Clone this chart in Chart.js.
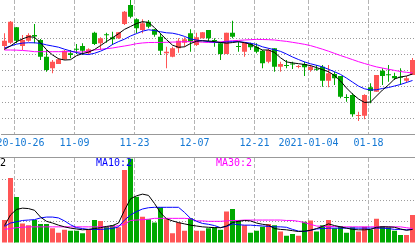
<!DOCTYPE html>
<html>
<head>
<meta charset="utf-8">
<script src="https://cdn.jsdelivr.net/npm/chart.js@4.4.1/dist/chart.umd.min.js"></script>
<style>
  html, body { margin: 0; padding: 0; background: #fff; overflow: hidden; }
  #wrap { position: relative; width: 415px; height: 243px; overflow: hidden; }
  #price { position: absolute; left: 0; top: 0; }
  #sep { position: absolute; left: 0; top: 157px; width: 415px; height: 1px; background: #999; }
  #vol { position: absolute; left: 0; top: 158px; }
</style>
</head>
<body>
<div id="wrap">
  <canvas id="price" width="416" height="157"></canvas>
  <div id="sep"></div>
  <canvas id="vol" width="416" height="85"></canvas>
</div>
<script>
// daily k-line, 2020-10-22 .. 2021-01-27

const days = [
  '2020-10-22','2020-10-23','2020-10-26','2020-10-27','2020-10-28','2020-10-29','2020-10-30',
  '2020-11-02','2020-11-03','2020-11-04','2020-11-05','2020-11-06','2020-11-09','2020-11-10',
  '2020-11-11','2020-11-12','2020-11-13','2020-11-16','2020-11-17','2020-11-18','2020-11-19',
  '2020-11-20','2020-11-23','2020-11-24','2020-11-25','2020-11-26','2020-11-27','2020-11-30',
  '2020-12-01','2020-12-02','2020-12-03','2020-12-04','2020-12-07','2020-12-08','2020-12-09',
  '2020-12-10','2020-12-11','2020-12-14','2020-12-15','2020-12-16','2020-12-17','2020-12-18',
  '2020-12-21','2020-12-22','2020-12-23','2020-12-24','2020-12-25','2020-12-28','2020-12-29',
  '2020-12-30','2020-12-31','2021-01-04','2021-01-05','2021-01-06','2021-01-07','2021-01-08',
  '2021-01-11','2021-01-12','2021-01-13','2021-01-14','2021-01-15','2021-01-18','2021-01-19',
  '2021-01-20','2021-01-21','2021-01-22','2021-01-25','2021-01-26','2021-01-27'
];

const tickDays = ['2020-10-26','2020-11-09','2020-11-23','2020-12-07','2020-12-21','2021-01-04','2021-01-18'];
const tickText = ['2020-10-26','11-09','11-23','12-07','12-21','2021-01-04','01-18'];

const open = [31.00,31.41,33.34,31.00,31.66,32.38,31.75,29.66,28.21,28.75,29.34,30.09,30.63,31.00,30.09,32.66,31.34,32.46,32.09,31.96,
  33.75,36.13,34.34,33.00,34.04,33.09,32.16,30.09,29.66,30.71,31.41,32.59,31.13,31.96,33.00,31.71,31.34,30.00,32.66,31.00,
  30.29,31.25,30.91,30.41,29.04,30.71,28.41,28.59,28.79,28.38,28.75,28.00,28.13,28.41,26.66,27.50,27.25,24.59,24.88,22.25,
  22.29,25.84,25.29,27.91,27.41,27.25,27.13,26.66,27.38];
const high = [32.59,34.13,33.38,32.38,32.59,33.75,31.88,30.50,29.25,29.50,30.50,30.50,31.25,31.34,30.71,32.79,32.09,32.66,32.79,32.75,
  35.38,36.75,34.46,34.34,34.25,33.13,32.59,30.91,30.91,31.96,32.09,33.09,32.66,32.75,33.00,31.96,31.54,32.66,34.16,31.54,
  31.41,31.41,31.34,30.50,30.71,30.71,29.04,29.25,29.04,28.63,29.04,28.63,28.63,28.63,28.63,27.79,27.25,24.96,25.09,22.79,
  24.96,26.34,27.38,28.21,28.63,27.66,28.21,27.25,29.50];
const low = [30.50,31.25,31.34,30.50,31.54,31.34,29.25,27.79,27.59,28.75,29.25,29.46,30.00,29.88,29.88,31.13,30.50,31.41,31.13,31.88,
  33.63,34.46,32.59,32.59,33.21,32.16,29.88,28.21,29.59,30.16,30.91,30.29,31.00,31.96,31.54,30.91,29.25,30.00,31.96,30.29,
  29.66,30.50,30.09,28.21,28.84,27.79,27.79,28.21,28.13,28.21,27.25,27.79,27.91,25.91,25.84,26.13,24.46,24.04,22.16,21.63,
  21.84,23.84,25.29,26.13,26.54,26.75,26.13,26.41,27.38];
const close = [31.66,34.04,31.66,31.75,32.38,32.19,29.66,28.00,29.04,29.34,30.41,29.88,30.54,30.41,30.59,31.25,31.96,32.34,31.84,32.71,
  35.29,34.66,33.21,33.84,33.41,32.41,30.41,30.29,30.71,31.66,31.84,31.54,32.09,32.71,31.96,31.63,30.00,32.66,32.16,30.88,
  31.41,30.84,30.29,28.84,30.50,28.41,28.75,28.50,28.69,28.46,28.34,28.41,28.04,26.66,27.59,26.96,24.66,24.50,22.46,22.34,
  24.88,25.38,27.38,27.25,27.34,26.96,27.04,26.96,29.25];

const ma5 = [30.59,31.00,31.53,31.89,32.16,32.09,31.39,30.54,29.88,29.41,29.25,29.29,29.79,30.05,30.24,30.56,31.05,31.56,32.03,32.53,
  33.08,33.44,33.81,34.04,33.94,33.30,32.54,31.80,31.10,30.84,30.90,31.31,31.59,31.66,31.63,31.55,31.44,31.35,31.43,31.54,
  31.41,31.23,30.84,30.50,30.50,30.19,29.53,29.01,28.89,28.79,28.69,28.55,28.30,28.04,27.79,27.31,26.63,25.75,25.00,24.38,
  23.94,24.00,24.75,25.50,26.13,26.88,27.13,27.25,27.50];
const ma10 = [30.75,31.00,31.23,31.36,31.41,31.40,31.33,31.14,31.00,30.85,30.60,30.38,30.18,30.00,29.93,30.09,30.35,30.69,31.19,31.55,
  31.85,32.25,32.55,32.85,33.03,32.93,32.78,32.65,32.60,32.44,32.20,31.89,31.74,31.65,31.55,31.48,31.43,31.50,31.54,31.54,
  31.46,31.35,31.18,30.90,30.71,30.53,30.33,30.00,29.63,29.31,29.01,28.78,28.59,28.39,28.09,27.78,27.45,26.99,26.49,25.99,
  25.65,25.50,25.53,25.69,25.81,26.00,26.19,26.44,26.69];
const ma30 = [30.50,30.50,30.48,30.44,30.38,30.29,30.29,30.29,30.29,30.29,30.29,30.29,30.25,30.25,30.38,30.50,30.59,30.66,30.75,30.88,
  31.00,31.13,31.29,31.38,31.43,31.44,31.45,31.46,31.49,31.51,31.54,31.54,31.53,31.48,31.44,31.44,31.51,31.60,31.66,31.70,
  31.75,31.79,31.83,31.81,31.79,31.75,31.66,31.58,31.46,31.34,31.21,31.05,30.83,30.60,30.35,30.08,29.81,29.56,29.30,29.04,
  28.81,28.59,28.39,28.24,28.09,27.95,27.81,27.71,27.63];

const volume = [54,153,108,46,42,54,45,45,35,24,31,29,29,23,31,54,52,38,42,37,
  172,198,109,62,56,48,84,56,23,48,29,58,29,29,35,37,31,74,80,54,
  42,24,29,38,45,42,27,17,21,17,50,53,27,42,54,35,40,24,37,27,
  38,32,57,40,37,29,19,19,66];
const volMa5 = [41,66,79,82,81,77,61,51,47,42,38,35,33,31,32,34,36,39,41,47,
  77,104,111,115,112,93,71,57,52,48,45,42,40,38,37,36,36,40,48,51,
  53,52,47,44,42,34,32,31,29,27,28,30,34,39,45,41,38,35,32,31,
  31,32,37,38,38,37,33,30,32];
const volMa10 = [39,47,50,53,54,55,59,61,61,59,52,43,36,34,32,32,32,33,34,38,
  54,66,74,80,83,84,84,84,84,84,72,58,51,46,44,41,36,39,45,43,
  42,42,41,40,39,38,38,37,32,28,27,30,33,34,35,35,35,35,35,35,
  35,35,35,35,34,32,32,31,32];
const volMa30 = [32,34,36,37,38,38,38,38,38,38,38,38,38,38,38,38,38,38,38,41,
  44,53,54,55,56,58,58,58,58,58,58,57,52,52,51,51,51,52,53,53,
  54,54,54,54,54,54,54,53,53,51,48,44,40,39,39,39,38,38,38,38,
  38,38,38,38,38,38,38,36,34];

const volLabels = ['MA5:2', 'MA10:2', 'MA30:2'];

const UP = '#ff5555', DOWN = '#00a800';
const lineColors = ['#000000', '#0000ff', '#ff00ff'];
const candleColor = days.map((d, i) => close[i] >= open[i] ? UP : DOWN);

Chart.defaults.font.family = 'DejaVu Sans Mono';
Chart.defaults.animation = false;

// dashed date lines, drawn at the left edge of the candle body
const dateGrid = {
  id: 'dateGrid',
  beforeDatasetsDraw(chart) {
    const { ctx, chartArea, scales } = chart;
    ctx.save();
    ctx.strokeStyle = '#b4b4b4';
    ctx.lineWidth = 1;
    ctx.setLineDash([4, 2]);
    tickDays.forEach(d => {
      const px = Math.floor(scales.x.getPixelForValue(days.indexOf(d))) - 2 + 0.5;
      ctx.beginPath();
      ctx.moveTo(px, chartArea.top);
      ctx.lineTo(px, chartArea.bottom);
      ctx.stroke();
    });
    ctx.restore();
  }
};

const maLabels = {
  id: 'maLabels',
  afterDraw(chart) {
    const ctx = chart.ctx;
    ctx.save();
    ctx.font = '10px "DejaVu Sans Mono"';
    ctx.textBaseline = 'alphabetic';
    const xs = [-24, 96, 216];
    volLabels.forEach((t, j) => {
      ctx.fillStyle = lineColors[j];
      ctx.fillText(t, xs[j], 8);
    });
    ctx.restore();
  }
};

function maLine(data, color) {
  return { type: 'line', data: data, borderColor: color, borderWidth: 1, pointRadius: 0, tension: 0, order: 0 };
}

function dotted(step, lo, hi) {
  return {
    min: lo, max: hi,
    ticks: { display: false, stepSize: step },
    grid: { drawTicks: false, color: c => (c.tick.value > lo && c.tick.value < hi && c.tick.value % step === 0) ? '#9a9a9a' : 'transparent' },
    border: { display: false, dash: [1, 2] },
    afterFit: s => { s.width = 0; }
  };
}

new Chart(document.getElementById('price'), {
  type: 'bar',
  data: {
    labels: days,
    datasets: [
      maLine(ma5, lineColors[0]),
      maLine(ma10, lineColors[1]),
      maLine(ma30, lineColors[2]),
      {
        data: days.map((d, i) => [low[i], high[i]]),
        backgroundColor: candleColor, barThickness: 1, grouped: false, inflateAmount: 0, order: 2
      },
      {
        data: days.map((d, i) => [Math.min(open[i], close[i]), Math.max(open[i], close[i])]),
        backgroundColor: candleColor, barThickness: 5, grouped: false, inflateAmount: 0, minBarLength: 1, order: 1
      }
    ]
  },
  options: {
    responsive: false,
    layout: { autoPadding: false, padding: { left: 1.5, right: 0.5, top: 0, bottom: 0 } },
    plugins: { legend: { display: false }, tooltip: { enabled: false } },
    events: [],
    scales: {
      x: {
        offset: true,
        grid: { display: false, drawTicks: false },
        border: { display: true, color: '#999999' },
        ticks: {
          autoSkip: false, maxRotation: 0, padding: 3, labelOffset: -2,
          color: '#1478d4', font: { size: 10 },
          callback: (v, i) => {
            const t = tickDays.indexOf(days[i]);
            return t < 0 ? null : tickText[t];
          }
        },
        afterFit: s => { s.height = 23; s.paddingLeft = 0; s.paddingRight = 0; }
      },
      y: dotted(2, 20, 36.75)
    }
  },
  plugins: [dateGrid]
});

new Chart(document.getElementById('vol'), {
  type: 'bar',
  data: {
    labels: days,
    datasets: [
      maLine(volMa5, lineColors[0]),
      maLine(volMa10, lineColors[1]),
      maLine(volMa30, lineColors[2]),
      { data: volume, backgroundColor: candleColor, barThickness: 5, inflateAmount: 0, order: 1 }
    ]
  },
  options: {
    responsive: false,
    layout: { autoPadding: false, padding: { left: 1.5, right: 0.5, top: 0, bottom: 0 } },
    plugins: { legend: { display: false }, tooltip: { enabled: false } },
    events: [],
    scales: {
      x: { offset: true, display: false },
      y: dotted(50, 0, 200)
    }
  },
  plugins: [dateGrid, maLabels]
});
</script>
</body>
</html>
